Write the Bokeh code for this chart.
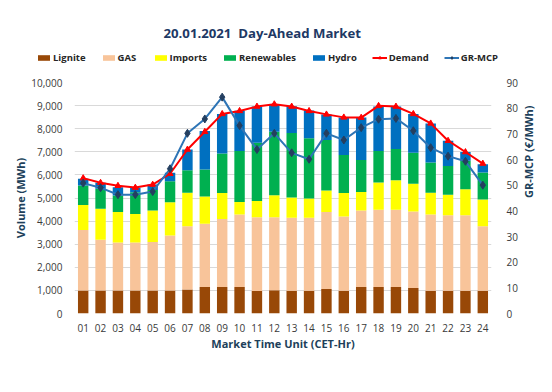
import numpy as np
from bokeh.plotting import figure
from bokeh.layouts import column
from bokeh.models import (ColumnDataSource, Range1d, LinearAxis, FactorRange, Legend,
                          LegendItem, Label, NumeralTickFormatter, SingleIntervalTicker)
from bokeh.embed import file_html
from bokeh.resources import INLINE

hours = [f"{i:02d}" for i in range(1, 25)]
lignite = [1000, 1000, 1000, 1000, 1000, 1000, 1040, 1150, 1150, 1150, 970, 1010,
           990, 990, 1060, 990, 1150, 1150, 1150, 1100, 990, 990, 990, 990]
gas = [2620, 2190, 2070, 2070, 2100, 2380, 2740, 2730, 2940, 3140, 3200, 3160,
       3160, 3160, 3330, 3210, 3310, 3340, 3340, 3320, 3300, 3260, 3260, 2790]
imports = [1080, 1340, 1320, 1240, 1360, 1440, 1450, 1190, 1130, 540, 700, 950,
           870, 830, 940, 1020, 800, 1180, 1280, 1200, 940, 890, 1130, 1160]
renewables = [840, 870, 720, 940, 890, 910, 970, 1160, 1710, 2210, 2520, 2750,
              2790, 2610, 2180, 1640, 1380, 1370, 1350, 1340, 1310, 1250, 1230, 1160]
hydro = [290, 260, 360, 190, 230, 360, 900, 1670, 1710, 1740, 1570, 1160,
         1160, 1200, 1110, 1630, 1840, 1920, 1840, 1680, 1690, 1090, 380, 360]
demand = [5860, 5660, 5530, 5450, 5580, 6050, 7100, 7870, 8640, 8770, 8960, 9060,
          8960, 8770, 8620, 8490, 8480, 8990, 8960, 8640, 8230, 7480, 6990, 6490]
gr_mcp = [50.8, 49.0, 46.3, 46.3, 47.5, 56.4, 70.2, 75.8, 84.3, 73.2, 63.9, 70.2,
          62.6, 60.1, 70.2, 67.6, 72.4, 75.7, 76.0, 71.2, 64.6, 61.3, 59.3, 50.0]

series_names = ["Lignite", "GAS", "Imports", "Renewables", "Hydro"]
series_colors = ["#984807", "#F8C49A", "#FFFF00", "#00B050", "#0070C0"]
title_text = "20.01.2021\u00a0\u00a0Day-Ahead Market"

src = ColumnDataSource(dict(hour=hours, Lignite=lignite, GAS=gas, Imports=imports,
                            Renewables=renewables, Hydro=hydro, demand=demand, mcp=gr_mcp))

FONT = "Open Sans"
TXT = "#203F5A"
TICK = "#3A3A3A"
DEM_C = "#FF0000"
MCP_C = "#2E75B6"
MCP_M = "#243F60"

# ---------- header figure (title + legend) ----------
TOP_H = 70
top = figure(width=552, height=TOP_H, output_backend="svg", toolbar_location=None,
             x_range=Range1d(0, 552), y_range=Range1d(0, TOP_H),
             x_axis_type=None, y_axis_type=None, outline_line_color=None,
             min_border_left=0, min_border_right=0, min_border_top=0, min_border_bottom=0)
top.grid.visible = False

top.add_layout(Label(x=163, y=TOP_H - 32, x_units="screen", y_units="screen",
                     text=title_text, text_font=FONT, text_font_size="13.2px",
                     text_font_style="bold", text_color="#203864",
                     text_align="left", text_baseline="middle"))

# legend keys only (NaN -> nothing drawn in the plot area)
nan = [np.nan]
key_bars = [top.vbar(x=nan, top=nan, width=1, color=c, line_color=None) for c in series_colors]
kd_l = top.line(x=nan, y=nan, color=DEM_C, line_width=2)
kd_m = top.scatter(x=nan, y=nan, marker="triangle", size=6, color=DEM_C)
km_l = top.line(x=nan, y=nan, color=MCP_C, line_width=2)
km_m = top.scatter(x=nan, y=nan, marker="diamond", size=8, color=MCP_M)

legend = Legend(items=[LegendItem(label=n, renderers=[r]) for n, r in zip(series_names, key_bars)] +
                [LegendItem(label="Demand", renderers=[kd_l, kd_m]),
                 LegendItem(label="GR-MCP", renderers=[km_l, km_m])],
                orientation="horizontal", location=(36, 6),
                glyph_width=15, glyph_height=7, spacing=15, label_standoff=2,
                padding=0, margin=0, border_line_color=None, background_fill_alpha=0,
                label_text_font=FONT, label_text_font_size="9.5px",
                label_text_font_style="bold", label_text_color="#262626")
top.add_layout(legend, "center")

# ---------- main chart ----------
p = figure(x_range=FactorRange(*hours), y_range=Range1d(0, 10000),
           width=552, height=392 - TOP_H, output_backend="svg", toolbar_location=None,
           min_border_left=74, min_border_right=61, min_border_top=82 - TOP_H,
           min_border_bottom=79, outline_line_color=None)
p.extra_y_ranges = {"price": Range1d(0, 90)}

for f in (top, p):
    try:
        f.frame_align = False
    except Exception:
        pass

bars = p.vbar_stack(series_names, x="hour", width=0.6, color=series_colors,
                    line_color=None, source=src)

p.line("hour", "demand", source=src, color=DEM_C, line_width=2)
p.scatter("hour", "demand", source=src, marker="triangle", size=6, color=DEM_C)
p.line("hour", "mcp", source=src, color=MCP_C, line_width=2, y_range_name="price")
p.scatter("hour", "mcp", source=src, marker="diamond", size=8, color=MCP_M,
          y_range_name="price")

la = p.yaxis[0]
la.ticker = SingleIntervalTicker(interval=1000)
la.formatter = NumeralTickFormatter(format="0,0")
la.axis_label = "Volume (MWh)"

ra = LinearAxis(y_range_name="price", ticker=SingleIntervalTicker(interval=10),
                axis_label="GR-MCP (€/MWh)")
p.add_layout(ra, "right")

for ax in [la, ra, p.xaxis[0]]:
    ax.axis_line_color = None
    ax.major_tick_line_color = None
    ax.minor_tick_line_color = None
    ax.major_label_text_font = FONT
    ax.major_label_text_font_size = "10px"
    ax.major_label_text_color = TICK
    ax.axis_label_text_font = FONT
    ax.axis_label_text_font_size = "11px"
    ax.axis_label_text_font_style = "bold"
    ax.axis_label_text_color = TXT
la.major_label_standoff = 6
la.axis_label_standoff = 0
ra.major_label_standoff = 9
ra.axis_label_standoff = 8
ra.axis_label_orientation = 1.5708
p.xaxis[0].major_label_standoff = 4
p.xaxis[0].axis_label = "Market Time Unit (CET-Hr)"
p.xaxis[0].axis_label_standoff = 1

p.xgrid.grid_line_color = None
p.ygrid.grid_line_color = "#D9D9D9"
p.ygrid.ticker = SingleIntervalTicker(interval=1000)

layout = column(top, p, spacing=0)
open("out.html", "w").write(file_html(layout, INLINE))
